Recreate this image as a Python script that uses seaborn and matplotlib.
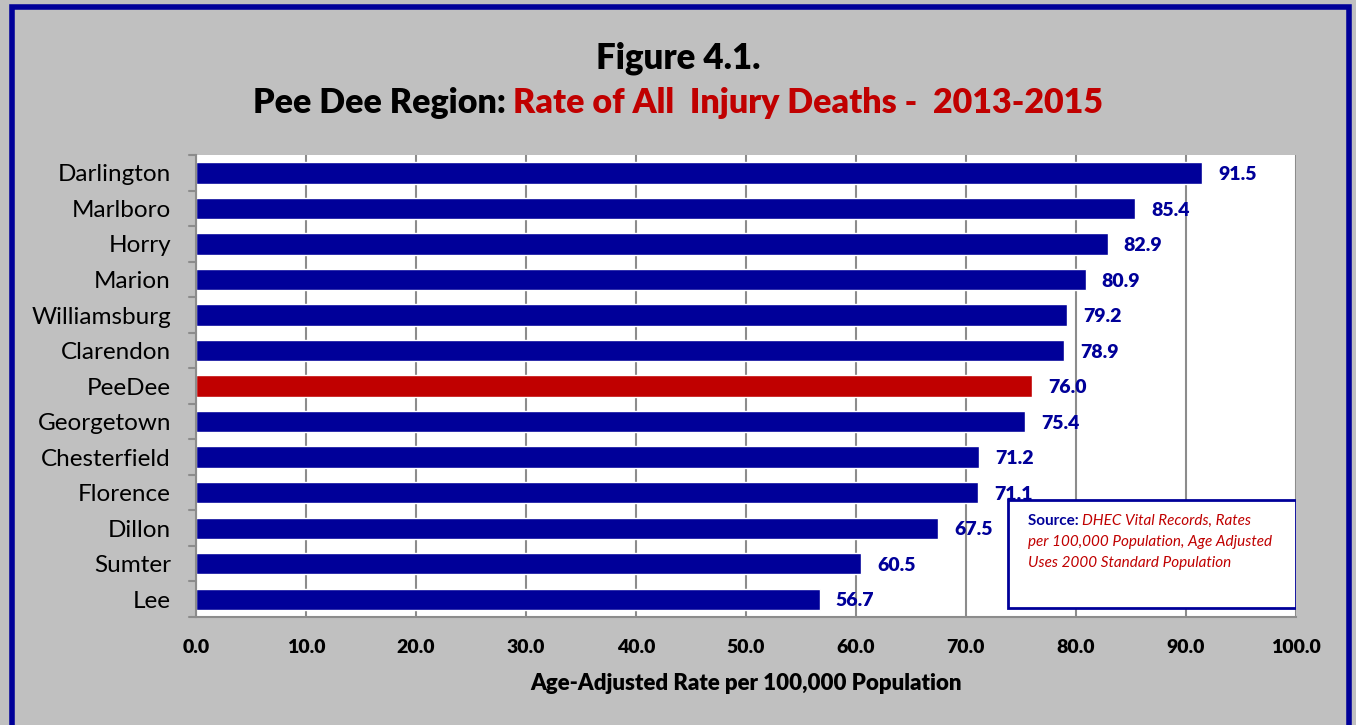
import matplotlib
matplotlib.use("Agg")
import matplotlib.pyplot as plt
from matplotlib.patches import Rectangle
import seaborn as sns
import pandas as pd

counties = ["Darlington", "Marlboro", "Horry", "Marion", "Williamsburg", "Clarendon",
            "PeeDee", "Georgetown", "Chesterfield", "Florence", "Dillon", "Sumter", "Lee"]
rates = [91.5, 85.4, 82.9, 80.9, 79.2, 78.9, 76.0, 75.4, 71.2, 71.1, 67.5, 60.5, 56.7]
x_ticks = [0, 10, 20, 30, 40, 50, 60, 70, 80, 90, 100]

NAVY = "#000099"
RED = "#C00000"
BG = "#C0C0C0"
GRID = "#8c8c8c"

sns.set_style("white")
plt.rcParams["font.family"] = ["Lato", "DejaVu Sans"]
plt.rcParams["text.color"] = "black"
plt.rcParams["xtick.color"] = "black"
plt.rcParams["ytick.color"] = "black"
plt.rcParams["axes.labelcolor"] = "black"

df = pd.DataFrame({"county": counties, "rate": rates})
palette = {c: (RED if c == "PeeDee" else NAVY) for c in counties}

fig = plt.figure(figsize=(13.56, 7.25), dpi=100)
fig.patch.set_facecolor(BG)
# outer border
fig.add_artist(Rectangle((0.0085, -0.01), 0.986, 1.0, transform=fig.transFigure,
                         fill=False, edgecolor=NAVY, linewidth=4))

ax = fig.add_axes([0.1445, 0.149, 0.8112, 0.637])
ax.set_facecolor("white")
sns.barplot(data=df, x="rate", y="county", hue="county", palette=palette,
            order=counties, legend=False, width=0.6, saturation=1, ax=ax)

ax.set_xlim(0, 100)
ax.set_ylim(len(counties) - 0.5, -0.5)
ax.set_xticks(x_ticks)
ax.set_xticklabels([f"{v:.1f}" for v in x_ticks], fontsize=14, fontweight="heavy")
ax.tick_params(axis="x", length=6, color=GRID, width=1.5, pad=10, top=False)
ax.tick_params(axis="y", length=0, labelsize=17.5, pad=18, right=False)
ax.grid(axis="x", color=GRID, linewidth=1.5)
ax.set_axisbelow(True)
for s in ["top", "right"]:
    ax.spines[s].set_visible(False)
for s in ["left", "bottom"]:
    ax.spines[s].set_color(GRID)
    ax.spines[s].set_linewidth(1.5)

# Excel-like category boundary ticks on the left
for i in range(len(counties) + 1):
    ax.plot([-0.006, 0], [i - 0.5, i - 0.5], transform=ax.get_yaxis_transform(),
            color=GRID, linewidth=1.5, clip_on=False)

ax.set_ylabel("")
ax.set_xlabel("Age-Adjusted Rate per 100,000 Population", fontsize=16,
              fontweight="heavy", labelpad=12)

for i, v in enumerate(rates):
    ax.text(v + 1.45, i + 0.05, f"{v:.1f}", va="center", ha="left",
            fontsize=14, fontweight="heavy", color=NAVY)

# source box
box = Rectangle((0.738, 0.019), 0.262, 0.234, transform=ax.transAxes,
                facecolor="white", edgecolor=NAVY, linewidth=2, zorder=5)
ax.add_patch(box)
t1 = ax.text(0.7565, 0.208, "Source: ", transform=ax.transAxes, fontsize=11,
             fontweight="bold", color=NAVY, zorder=6, va="center")
fig.canvas.draw()
r = fig.canvas.get_renderer()
bb = t1.get_window_extent(r).transformed(ax.transAxes.inverted())
ax.text(bb.x1, 0.208, "DHEC Vital Records, Rates", transform=ax.transAxes,
        fontsize=11, style="italic", color=RED, zorder=6, va="center")
ax.text(0.7565, 0.162, "per 100,000 Population, Age Adjusted", transform=ax.transAxes,
        fontsize=11, style="italic", color=RED, zorder=6, va="center")
ax.text(0.7565, 0.117, "Uses 2000 Standard Population", transform=ax.transAxes,
        fontsize=11, style="italic", color=RED, zorder=6, va="center")

# title
fig.text(0.5, 0.92, "Figure 4.1.", ha="center", va="center", fontsize=25,
         fontweight="heavy", color="black")
p1 = fig.text(0, 0.858, "Pee Dee Region: ", ha="left", va="center", fontsize=24.5,
              fontweight="heavy", color="black")
p2 = fig.text(0, 0.858, "Rate of All  Injury Deaths -  2013-2015", ha="left", va="center",
              fontsize=24.5, fontweight="heavy", color=RED)
fig.canvas.draw()
w1 = p1.get_window_extent(r).width / fig.bbox.width
w2 = p2.get_window_extent(r).width / fig.bbox.width
start = 0.5 - (w1 + w2) / 2
p1.set_x(start)
p2.set_x(start + w1)

fig.savefig("out.png", dpi=100, facecolor=BG)
